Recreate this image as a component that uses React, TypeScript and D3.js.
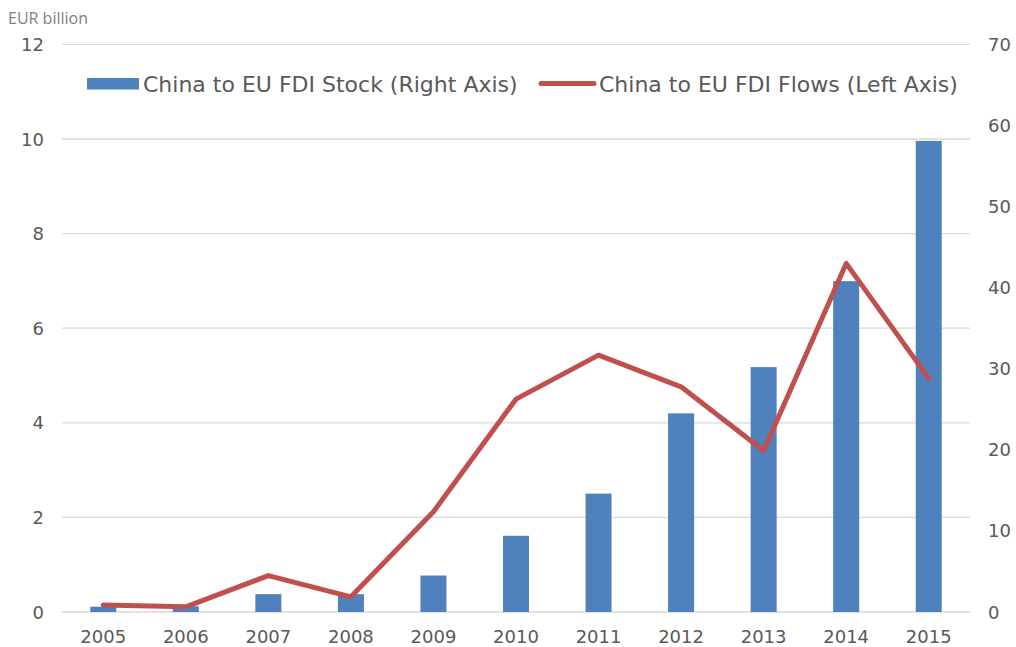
import React, { useEffect, useRef } from "react";
import * as d3 from "d3";

const years = ["2005", "2006", "2007", "2008", "2009", "2010", "2011", "2012", "2013", "2014", "2015"];
// right axis, EUR billion
const stockValues = [0.65, 0.7, 2.2, 2.2, 4.5, 9.4, 14.6, 24.5, 30.2, 40.8, 58.1];
// left axis, EUR billion
const flowValues = [0.15, 0.11, 0.77, 0.32, 2.12, 4.5, 5.43, 4.76, 3.41, 7.37, 4.94];
const leftTicks = [0, 2, 4, 6, 8, 10, 12];
const rightTicks = [0, 10, 20, 30, 40, 50, 60, 70];

const stockLabel = "China to EU FDI Stock (Right Axis)";
const flowLabel = "China to EU FDI Flows (Left Axis)";

export default function App() {
  const ref = useRef<SVGSVGElement>(null);

  useEffect(() => {
    const el = ref.current;
    if (!el) return;
    const svg = d3.select(el);
    svg.selectAll("*").remove();

    const left = 62, right = 970, top = 44.4, bottom = 612;
    const font = "'DejaVu Sans', Verdana, sans-serif";
    const txt = "#595959";

    const x = d3.scaleBand().domain(years).range([left, right]).paddingInner(0.685).paddingOuter(0.3425);
    const yL = d3.scaleLinear().domain([0, 12]).range([bottom, top]);
    const yR = d3.scaleLinear().domain([0, 70]).range([bottom, top]);

    // gridlines
    svg.append("g")
      .selectAll("line")
      .data(leftTicks)
      .join("line")
      .attr("x1", left)
      .attr("x2", right)
      .attr("y1", d => yL(d))
      .attr("y2", d => yL(d))
      .attr("stroke", "#d9d9d9")
      .attr("stroke-width", 1.3);

    // bars
    svg.append("g")
      .selectAll("rect")
      .data(stockValues)
      .join("rect")
      .attr("x", (_, i) => x(years[i])!)
      .attr("width", x.bandwidth())
      .attr("y", d => yR(d))
      .attr("height", d => bottom - yR(d))
      .attr("fill", "#4f81bd");

    // line
    const line = d3.line<number>()
      .x((_, i) => x(years[i])! + x.bandwidth() / 2)
      .y(d => yL(d));
    svg.append("path")
      .datum(flowValues)
      .attr("d", line)
      .attr("fill", "none")
      .attr("stroke", "#c0504d")
      .attr("stroke-width", 5)
      .attr("stroke-linejoin", "round")
      .attr("stroke-linecap", "round");

    // left axis labels
    svg.append("g")
      .selectAll("text")
      .data(leftTicks)
      .join("text")
      .attr("x", 44)
      .attr("y", d => yL(d) + 6.5)
      .attr("text-anchor", "end")
      .attr("font-family", font)
      .attr("font-size", 18)
      .attr("fill", txt)
      .text(d => d);

    // right axis labels
    svg.append("g")
      .selectAll("text")
      .data(rightTicks)
      .join("text")
      .attr("x", 988)
      .attr("y", d => yR(d) + 6.5)
      .attr("text-anchor", "start")
      .attr("font-family", font)
      .attr("font-size", 18)
      .attr("fill", txt)
      .text(d => d);

    // x labels
    svg.append("g")
      .selectAll("text")
      .data(years)
      .join("text")
      .attr("x", d => x(d)! + x.bandwidth() / 2)
      .attr("y", 643)
      .attr("text-anchor", "middle")
      .attr("font-family", font)
      .attr("font-size", 18)
      .attr("fill", txt)
      .text(d => d);

    // unit label
    svg.append("text")
      .attr("x", 8)
      .attr("y", 24)
      .attr("font-family", "'Open Sans', sans-serif")
      .attr("font-size", 16)
      .attr("fill", "#7f7f7f")
      .text("EUR billion");

    // legend
    const lg = svg.append("g");
    lg.append("rect").attr("x", 87).attr("y", 78).attr("width", 52).attr("height", 11.5).attr("fill", "#4f81bd");
    lg.append("text").attr("x", 143).attr("y", 92).attr("font-family", font).attr("font-size", 22)
      .attr("fill", txt).text(stockLabel);
    lg.append("line").attr("x1", 541).attr("x2", 594).attr("y1", 83.5).attr("y2", 83.5)
      .attr("stroke", "#c0504d").attr("stroke-width", 5).attr("stroke-linecap", "round");
    lg.append("text").attr("x", 599).attr("y", 92).attr("font-family", font).attr("font-size", 22)
      .attr("fill", txt).text(flowLabel);
  }, []);

  return (
    <svg
      ref={ref}
      width={1016}
      height={647}
      style={{ position: "absolute", left: 0, top: 0, background: "#fff" }}
    />
  );
}
